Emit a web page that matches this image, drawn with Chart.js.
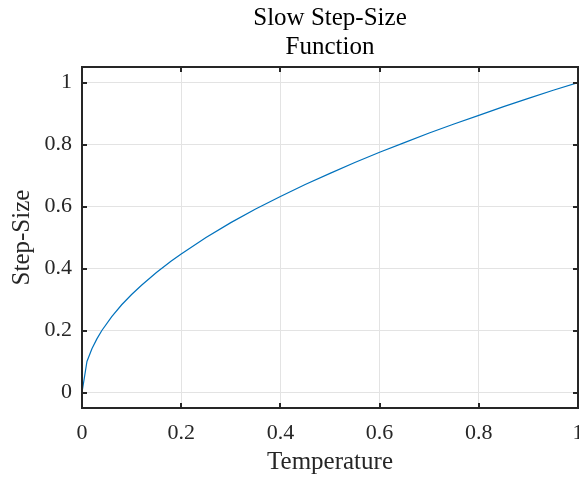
<!DOCTYPE html>
<html>
<head>
<meta charset="utf-8">
<script src="https://cdn.jsdelivr.net/npm/chart.js@4/dist/chart.umd.min.js"></script>
<style>
  html, body { margin: 0; padding: 0; background: #fff; }
  #wrap { width: 579px; height: 477px; }
</style>
</head>
<body>
<div id="wrap"><canvas id="chart" width="579" height="477"></canvas></div>
<script>
// Values
const temperature = [0, 0.01, 0.02, 0.03, 0.04, 0.06, 0.08, 0.1, 0.12, 0.15, 0.18, 0.2, 0.25, 0.3, 0.35, 0.4, 0.45, 0.5, 0.55, 0.6, 0.65, 0.7, 0.75, 0.8, 0.85, 0.9, 0.95, 1];
const stepSize = [0, 0.1, 0.141, 0.173, 0.2, 0.245, 0.283, 0.316, 0.346, 0.387, 0.424, 0.447, 0.5, 0.548, 0.592, 0.632, 0.671, 0.707, 0.742, 0.775, 0.806, 0.837, 0.866, 0.894, 0.922, 0.949, 0.975, 1];
const xTicks = [0, 0.2, 0.4, 0.6, 0.8, 1];
const yTicks = [0, 0.2, 0.4, 0.6, 0.8, 1];
const titleLines = ['Slow Step-Size', 'Function'];

const frameColor = '#262626';
const serif = '"Liberation Serif", "DejaVu Serif", serif';

// MATLAB-style box with inward ticks on all four sides, title centred over the axes
const boxPlugin = {
  id: 'box',
  afterDraw(chart) {
    const { ctx, chartArea: a, scales } = chart;
    const len = 5;
    ctx.save();
    ctx.strokeStyle = frameColor;
    ctx.lineWidth = 2;
    ctx.beginPath();
    xTicks.forEach(v => {
      const px = Math.round(scales.x.getPixelForValue(v));
      ctx.moveTo(px, a.bottom); ctx.lineTo(px, a.bottom - len);
      ctx.moveTo(px, a.top); ctx.lineTo(px, a.top + len);
    });
    yTicks.forEach(v => {
      const py = Math.round(scales.y.getPixelForValue(v));
      ctx.moveTo(a.left, py); ctx.lineTo(a.left + len, py);
      ctx.moveTo(a.right, py); ctx.lineTo(a.right - len, py);
    });
    ctx.stroke();
    ctx.strokeRect(a.left, a.top, a.right - a.left, a.bottom - a.top);

    ctx.fillStyle = '#000';
    ctx.font = '25px ' + serif;
    ctx.textAlign = 'center';
    ctx.textBaseline = 'alphabetic';
    const cx = (a.left + a.right) / 2;
    titleLines.forEach((line, i) => ctx.fillText(line, cx, 25 + i * 29));
    ctx.restore();
  }
};

new Chart(document.getElementById('chart'), {
  type: 'line',
  data: {
    datasets: [{
      data: temperature.map((t, i) => ({ x: t, y: stepSize[i] })),
      borderColor: '#0072BD',
      borderWidth: 1.2,
      pointRadius: 0,
      tension: 0,
      fill: false
    }]
  },
  options: {
    responsive: false,
    animation: false,
    layout: { padding: { left: 0, right: 1, top: 67, bottom: 0 } },
    plugins: {
      legend: { display: false },
      tooltip: { enabled: false },
      title: { display: false }
    },
    scales: {
      x: {
        type: 'linear',
        min: 0,
        max: 1,
        afterBuildTicks: s => { s.ticks = xTicks.map(v => ({ value: v })); },
        afterFit: s => { s.height = 69; s.paddingLeft = 0; s.paddingRight = 0; },
        border: { display: false },
        grid: { color: '#e3e3e3', lineWidth: 1, drawTicks: false },
        ticks: {
          color: '#262626',
          padding: 12,
          maxRotation: 0,
          font: { family: serif, size: 22 },
          callback: v => String(v)
        },
        title: {
          display: true,
          text: 'Temperature',
          color: '#262626',
          font: { family: serif, size: 25 },
          padding: { top: 0, bottom: 0 }
        }
      },
      y: {
        type: 'linear',
        min: -0.05,
        max: 1.05,
        afterBuildTicks: s => { s.ticks = yTicks.map(v => ({ value: v })); },
        afterFit: s => { s.width = 82; s.paddingTop = 0; s.paddingBottom = 0; },
        border: { display: false },
        grid: { color: '#e3e3e3', lineWidth: 1, drawTicks: false },
        ticks: {
          color: '#262626',
          padding: 10,
          font: { family: serif, size: 22 },
          callback: v => String(v)
        },
        title: {
          display: true,
          text: 'Step-Size',
          color: '#262626',
          font: { family: serif, size: 25 },
          padding: { top: 7, bottom: 0 }
        }
      }
    }
  },
  plugins: [boxPlugin]
});
</script>
</body>
</html>
